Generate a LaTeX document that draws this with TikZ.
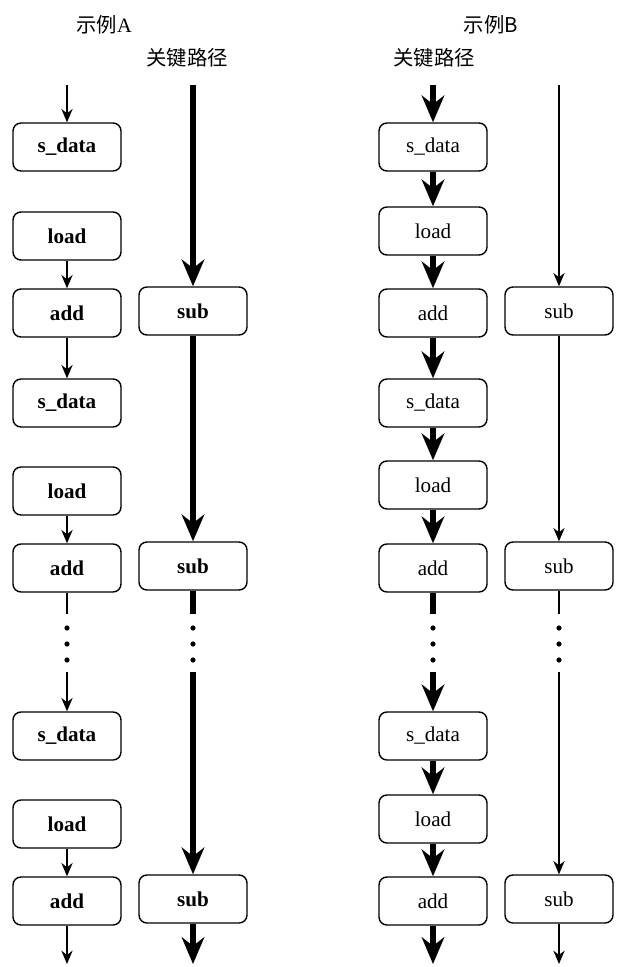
\documentclass[tikz,border=0pt]{standalone}
\usepackage{fontspec}
\setmainfont{Liberation Serif}
\newfontfamily\cjk{Noto Sans CJK SC}
\usepackage{tikz}
\usetikzlibrary{arrows.meta,positioning}

\begin{document}
\begin{tikzpicture}[x=0.025cm, y=-0.025cm,
  every node/.style={font=\fontsize{14.5}{17}\selectfont},
  op/.style={draw, line width=1pt, rounded corners=0.2cm, minimum width=2.7cm,
    minimum height=1.2cm, inner sep=0pt, font=\fontsize{15}{17}\selectfont\bfseries},
  opB/.style={op, font=\fontsize{15}{17}\selectfont},
  flow/.style={line width=1.1pt, -{Stealth[length=9.5pt, width=8pt]}},
  crit/.style={line width=3.6pt, -{Stealth[length=19pt, width=16pt]}},
  critline/.style={line width=3.6pt},
  flowline/.style={line width=1.1pt}]
  \useasboundingbox (0,0) rectangle (622,967);

  % titles
  \node (titleA) at (104,25) {{\cjk 示例}A};
  \node (critA) at (187,58) {\cjk 关键路径};
  \node (titleB) at (491,25) {\cjk 示例B};
  \node (critB) at (434,58) {\cjk 关键路径};

  % example A, left column
  \node[op] (aData1) at (67,147) {s\_data};
  \node[op] (aLoad1) at (67,236) {load};
  \node[op] (aAdd1)  at (67,313) {add};
  \node[op] (aData2) at (67,403) {s\_data};
  \node[op] (aLoad2) at (67,491) {load};
  \node[op] (aAdd2)  at (67,568) {add};
  \node[op] (aData3) at (67,736) {s\_data};
  \node[op] (aLoad3) at (67,824) {load};
  \node[op] (aAdd3)  at (67,901) {add};
  % example A, critical path
  \node[op] (aSub1) at (193,311) {sub};
  \node[op] (aSub2) at (193,566) {sub};
  \node[op] (aSub3) at (193,899) {sub};

  % example B, critical path
  \node[opB] (bData1) at (433,147) {s\_data};
  \node[opB] (bLoad1) at (433,231) {load};
  \node[opB] (bAdd1)  at (433,313) {add};
  \node[opB] (bData2) at (433,403) {s\_data};
  \node[opB] (bLoad2) at (433,485) {load};
  \node[opB] (bAdd2)  at (433,568) {add};
  \node[opB] (bData3) at (433,736) {s\_data};
  \node[opB] (bLoad3) at (433,819) {load};
  \node[opB] (bAdd3)  at (433,901) {add};
  % example B, right column
  \node[opB] (bSub1) at (559,311) {sub};
  \node[opB] (bSub2) at (559,566) {sub};
  \node[opB] (bSub3) at (559,899) {sub};

  % free ends
  \coordinate (aTop)  at (67,85);   \coordinate (aCTop) at (193,85);
  \coordinate (bTop)  at (433,85);  \coordinate (bCTop) at (559,85);
  \coordinate (aGap)  at (67,614);  \coordinate (aRes)  at (67,672);
  \coordinate (aCGap) at (193,614); \coordinate (aCRes) at (193,672);
  \coordinate (bGap)  at (433,614); \coordinate (bRes)  at (433,672);
  \coordinate (bCGap) at (559,614); \coordinate (bCRes) at (559,672);
  \coordinate (aEnd)  at (67,964);  \coordinate (aCEnd) at (193,964);
  \coordinate (bEnd)  at (433,964); \coordinate (bCEnd) at (559,964);

  % example A
  \draw[flow] (aTop) -- (aData1);
  \draw[flow] (aLoad1) -- (aAdd1);
  \draw[flow] (aAdd1) -- (aData2);
  \draw[flow] (aLoad2) -- (aAdd2);
  \draw[flowline] (aAdd2) -- (aGap);
  \draw[flow] (aRes) -- (aData3);
  \draw[flow] (aLoad3) -- (aAdd3);
  \draw[flow] (aAdd3) -- (aEnd);
  \draw[crit] (aCTop) -- (aSub1);
  \draw[crit] (aSub1) -- (aSub2);
  \draw[critline] (aSub2) -- (aCGap);
  \draw[crit] (aCRes) -- (aSub3);
  \draw[crit] (aSub3) -- (aCEnd);

  % example B
  \draw[crit] (bTop) -- (bData1);
  \draw[crit] (bData1) -- (bLoad1);
  \draw[crit] (bLoad1) -- (bAdd1);
  \draw[crit] (bAdd1) -- (bData2);
  \draw[crit] (bData2) -- (bLoad2);
  \draw[crit] (bLoad2) -- (bAdd2);
  \draw[critline] (bAdd2) -- (bGap);
  \draw[crit] (bRes) -- (bData3);
  \draw[crit] (bData3) -- (bLoad3);
  \draw[crit] (bLoad3) -- (bAdd3);
  \draw[crit] (bAdd3) -- (bEnd);
  \draw[flow] (bCTop) -- (bSub1);
  \draw[flow] (bSub1) -- (bSub2);
  \draw[flowline] (bSub2) -- (bCGap);
  \draw[flow] (bCRes) -- (bSub3);
  \draw[flow] (bSub3) -- (bCEnd);

  % dots
  \foreach \x in {67,193,433,559}
    \foreach \y in {628,644,660}
      \fill (\x,\y) circle (2.6);
\end{tikzpicture}
\end{document}
